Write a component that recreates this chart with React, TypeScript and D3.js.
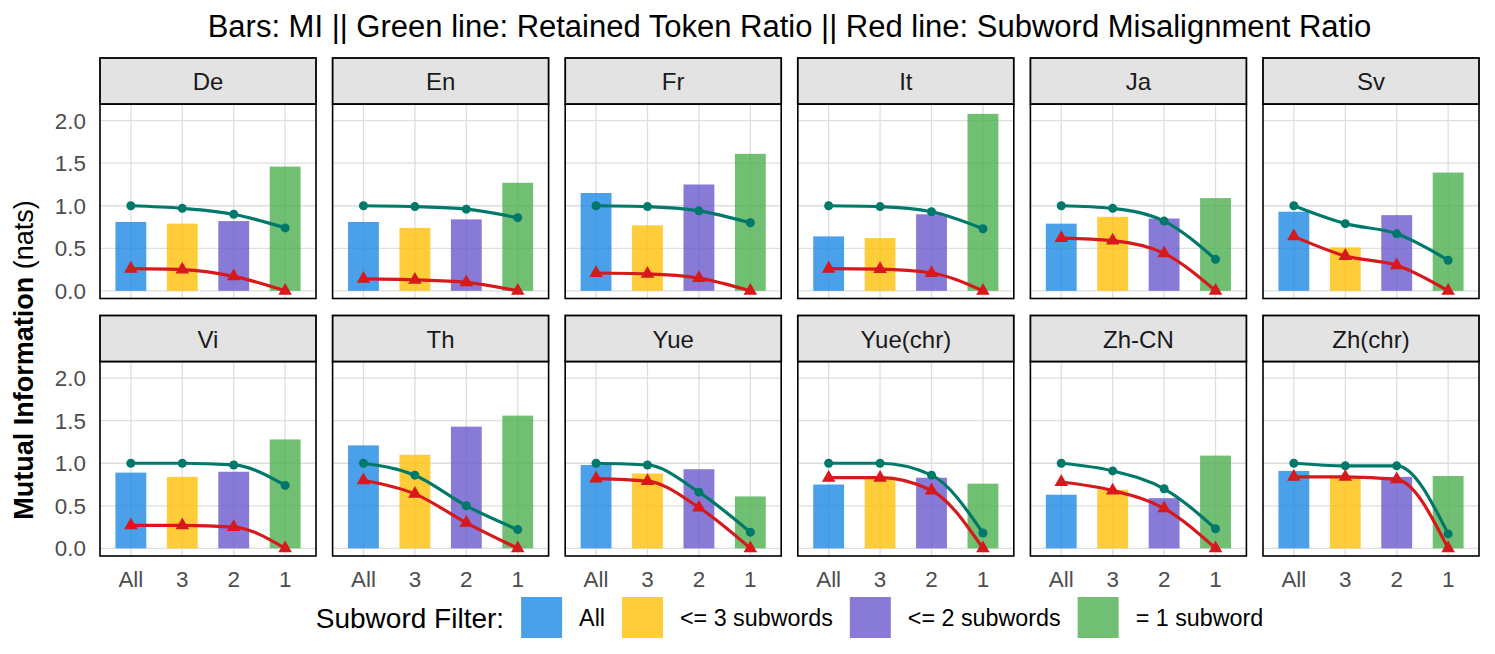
import React from 'react';
import * as d3 from 'd3';

// ---------- data ----------
const languages = ["De", "En", "Fr", "It", "Ja", "Sv", "Vi", "Th", "Yue", "Yue(chr)", "Zh-CN", "Zh(chr)"];
const filterTicks = ["All", "3", "2", "1"];
const filterLabels = ["All", "<= 3 subwords", "<= 2 subwords", "= 1 subword"];
const filterColors = ["#1E88E5", "#FFC107", "#6A5ACD", "#4CAF50"];
const yTicks = [0, 0.5, 1, 1.5, 2];

// Mutual information (bars), one array per subword filter, indexed by language
const miAll = [0.81, 0.81, 1.15, 0.64, 0.79, 0.93, 0.89, 1.21, 0.98, 0.75, 0.63, 0.91];
const mi3 = [0.79, 0.74, 0.77, 0.62, 0.87, 0.51, 0.84, 1.10, 0.88, 0.84, 0.69, 0.83];
const mi2 = [0.82, 0.84, 1.25, 0.90, 0.85, 0.89, 0.90, 1.43, 0.93, 0.83, 0.59, 0.84];
const mi1 = [1.46, 1.27, 1.61, 2.08, 1.09, 1.39, 1.28, 1.56, 0.61, 0.76, 1.09, 0.85];

// Retained token ratio (green line)
const retainedAll = [1.0, 1.0, 1.0, 1.0, 1.0, 1.0, 1.0, 1.0, 1.0, 1.0, 1.0, 1.0];
const retained3 = [0.97, 0.99, 0.99, 0.99, 0.97, 0.79, 1.0, 0.86, 0.98, 1.0, 0.91, 0.97];
const retained2 = [0.90, 0.96, 0.94, 0.93, 0.82, 0.67, 0.98, 0.50, 0.66, 0.86, 0.70, 0.97];
const retained1 = [0.74, 0.86, 0.80, 0.73, 0.37, 0.36, 0.74, 0.22, 0.19, 0.18, 0.23, 0.17];

// Subword misalignment ratio (red line)
const misalignAll = [0.26, 0.14, 0.21, 0.26, 0.62, 0.64, 0.27, 0.80, 0.82, 0.83, 0.78, 0.84];
const misalign3 = [0.25, 0.13, 0.20, 0.255, 0.59, 0.41, 0.27, 0.64, 0.79, 0.83, 0.68, 0.84];
const misalign2 = [0.17, 0.10, 0.15, 0.21, 0.44, 0.30, 0.25, 0.30, 0.48, 0.68, 0.47, 0.81];
const misalign1 = [0.0, 0.0, 0.0, 0.0, 0.0, 0.0, 0.0, 0.0, 0.0, 0.0, 0.0, 0.0];

const miByFilter = [miAll, mi3, mi2, mi1];
const retainedByFilter = [retainedAll, retained3, retained2, retained1];
const misalignByFilter = [misalignAll, misalign3, misalign2, misalign1];

// ---------- layout ----------
const W = 1495;
const H = 654;
const FONT = "'Liberation Sans', Arial, Helvetica, sans-serif";
const PANEL_LEFT = 100;
const PANEL_W = 216;
const GAP_X = 16.6;
const TOP = 58;
const ROW_PITCH = 257.5;
const STRIP_H = 46;
const PANEL_H = 194.5;
const Y_DOMAIN: [number, number] = [-0.09, 2.196];
const N_COLS = 6;
const GREEN = "#00796B";
const RED = "#D7191C";
const GRID = "#DEDEDE";
const BAR_ALPHA = 0.8;

function measure(text: string, size: number, weight = 'normal'): number {
  const c = document.createElement('canvas');
  const ctx = c.getContext('2d');
  if (!ctx) return text.length * size * 0.5;
  ctx.font = `${weight} ${size}px 'Liberation Sans', Arial, sans-serif`;
  return ctx.measureText(text).width;
}

function Panel({ index }: { index: number }) {
  const col = index % N_COLS;
  const row = Math.floor(index / N_COLS);
  const px = PANEL_LEFT + col * (PANEL_W + GAP_X);
  const stripTop = TOP + row * ROW_PITCH;
  const pTop = stripTop + STRIP_H;
  const pBot = pTop + PANEL_H;
  const x = d3.scalePoint<string>().domain(filterTicks).range([px, px + PANEL_W]).padding(0.6);
  const y = d3.scaleLinear().domain(Y_DOMAIN).range([pBot, pTop]);
  const bw = x.step() * 0.6;
  const line = d3
    .line<[string, number]>()
    .x((d) => x(d[0]) as number)
    .y((d) => y(d[1]))
    .curve(d3.curveMonotoneX);
  const greenPts: [string, number][] = filterTicks.map((f, k) => [f, retainedByFilter[k][index]]);
  const redPts: [string, number][] = filterTicks.map((f, k) => [f, misalignByFilter[k][index]]);
  const tri = d3.symbol().type(d3.symbolTriangle).size(80)();
  const isBottom = row === 1;
  const isLeft = col === 0;

  return (
    <g>
      <rect x={px} y={pTop} width={PANEL_W} height={PANEL_H} fill="#fff" />
      {yTicks.map((t) => (
        <line key={'h' + t} x1={px} x2={px + PANEL_W} y1={y(t)} y2={y(t)} stroke={GRID} strokeWidth={1.3} />
      ))}
      {filterTicks.map((f) => (
        <line key={'v' + f} x1={x(f)} x2={x(f)} y1={pTop} y2={pBot} stroke={GRID} strokeWidth={1.3} />
      ))}
      {filterTicks.map((f, k) => {
        const v = miByFilter[k][index];
        return (
          <rect
            key={'b' + f}
            x={(x(f) as number) - bw / 2}
            y={y(v)}
            width={bw}
            height={y(0) - y(v)}
            fill={filterColors[k]}
            fillOpacity={BAR_ALPHA}
          />
        );
      })}
      <path d={line(greenPts) || ''} fill="none" stroke={GREEN} strokeWidth={3.2} />
      {greenPts.map((d) => (
        <circle key={'g' + d[0]} cx={x(d[0])} cy={y(d[1])} r={4.5} fill={GREEN} />
      ))}
      <path d={line(redPts) || ''} fill="none" stroke={RED} strokeWidth={3.2} />
      {redPts.map((d) => (
        <path key={'r' + d[0]} d={tri || ''} transform={`translate(${x(d[0])},${y(d[1])})`} fill={RED} />
      ))}
      <rect x={px} y={pTop} width={PANEL_W} height={PANEL_H} fill="none" stroke="#000" strokeWidth={1.6} />
      <rect x={px} y={stripTop} width={PANEL_W} height={STRIP_H} fill="#E3E3E3" stroke="#000" strokeWidth={1.8} />
      <text
        x={px + PANEL_W / 2}
        y={stripTop + STRIP_H / 2 + 9}
        textAnchor="middle"
        fontSize={24}
        fontFamily={FONT}
        fill="#1A1A1A"
      >
        {languages[index]}
      </text>
      {isLeft &&
        yTicks.map((t) => (
          <text
            key={'yt' + t}
            x={px - 14}
            y={y(t) + 8}
            textAnchor="end"
            fontSize={22.4}
            fontFamily={FONT}
            fill="#4D4D4D"
          >
            {d3.format('.1f')(t)}
          </text>
        ))}
      {isBottom &&
        filterTicks.map((f) => (
          <text
            key={'xt' + f}
            x={x(f)}
            y={pBot + 30.5}
            textAnchor="middle"
            fontSize={22.4}
            fontFamily={FONT}
            fill="#4D4D4D"
          >
            {f}
          </text>
        ))}
    </g>
  );
}

function Legend() {
  const titleSize = 28;
  const labelSize = 23.3;
  const key = 41;
  const gap = 17;
  const title = 'Subword Filter:';
  const tw = measure(title, titleSize);
  const lws = filterLabels.map((l) => measure(l, labelSize));
  const total = tw + gap + lws.reduce((s, w) => s + key + gap + w, 0) + gap * (filterLabels.length - 1);
  const center = PANEL_LEFT + (N_COLS * PANEL_W + (N_COLS - 1) * GAP_X) / 2;
  const cy = 617.5;
  let cx = center - total / 2;
  const items: React.ReactNode[] = [];
  items.push(
    <text key="lt" x={cx} y={cy + 10} fontSize={titleSize} fontFamily={FONT} fill="#000">
      {title}
    </text>
  );
  cx += tw + gap;
  filterLabels.forEach((l, k) => {
    items.push(
      <rect key={'lk' + k} x={cx} y={cy - key / 2} width={key} height={key} fill={filterColors[k]} fillOpacity={BAR_ALPHA} />
    );
    cx += key + gap;
    items.push(
      <text key={'ll' + k} x={cx} y={cy + 8} fontSize={labelSize} fontFamily={FONT} fill="#000">
        {l}
      </text>
    );
    cx += lws[k] + gap;
  });
  return <g>{items}</g>;
}

export default function App() {
  const center = PANEL_LEFT + (N_COLS * PANEL_W + (N_COLS - 1) * GAP_X) / 2;
  return (
    <svg
      width={W}
      height={H}
      viewBox={`0 0 ${W} ${H}`}
      style={{ position: 'absolute', left: 0, top: 0, background: '#fff' }}
    >
      <rect x={0} y={0} width={W} height={H} fill="#fff" />
      <text x={center} y={37} textAnchor="middle" fontSize={31} fontFamily={FONT} fill="#000">
        Bars: MI || Green line: Retained Token Ratio || Red line: Subword Misalignment Ratio
      </text>
      {languages.map((_, i) => (
        <Panel key={i} index={i} />
      ))}
      <text
        transform={`translate(33, 360) rotate(-90)`}
        textAnchor="middle"
        fontSize={27}
        fontFamily={FONT}
        fill="#000"
      >
        <tspan fontWeight="bold">Mutual Information</tspan>
        <tspan> (nats)</tspan>
      </text>
      <Legend />
    </svg>
  );
}
